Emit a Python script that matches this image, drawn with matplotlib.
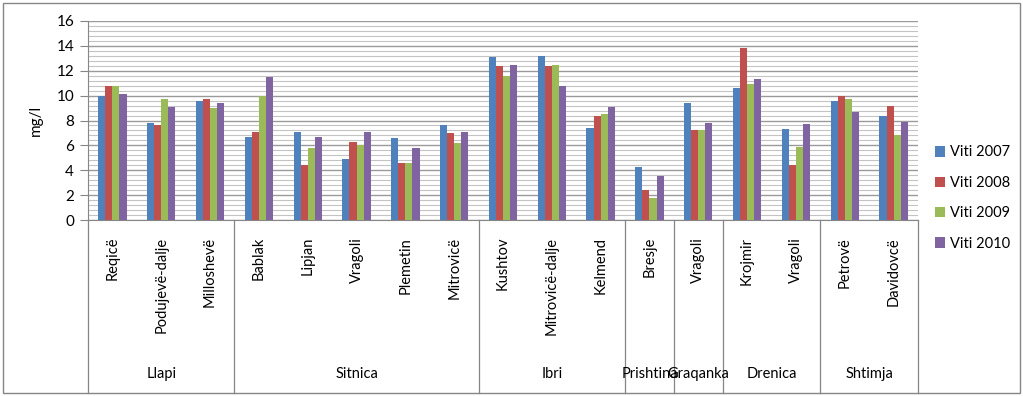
import matplotlib
matplotlib.use("Agg")
import matplotlib.pyplot as plt
import numpy as np
from matplotlib.patches import Rectangle

plt.rcParams["font.family"] = ["Lato", "DejaVu Sans"]

# Stations and the river they belong to
stations = ["Reqicë", "Podujevë-dalje", "Milloshevë",
            "Bablak", "Lipjan", "Vragoli", "Plemetin", "Mitrovicë",
            "Kushtov", "Mitrovicë-dalje", "Kelmend",
            "Bresje",
            "Vragoli",
            "Krojmir", "Vragoli",
            "Petrovë", "Davidovcë"]
rivers = ["Llapi", "Sitnica", "Ibri", "Prishtina", "Graqanka", "Drenica", "Shtimja"]
river_sizes = [3, 5, 3, 1, 1, 2, 2]

years = ["Viti 2007", "Viti 2008", "Viti 2009", "Viti 2010"]
v2007 = [10.0, 7.8, 9.6, 6.7, 7.1, 4.9, 6.6, 7.6, 13.1, 13.2, 7.4, 4.3, 9.4, 10.6, 7.3, 9.6, 8.4]
v2008 = [10.8, 7.6, 9.7, 7.1, 4.4, 6.3, 4.6, 7.0, 12.4, 12.4, 8.4, 2.4, 7.2, 13.8, 4.4, 10.0, 9.2]
v2009 = [10.8, 9.7, 9.0, 10.0, 5.8, 6.0, 4.6, 6.2, 11.6, 12.5, 8.5, 1.8, 7.2, 10.9, 5.9, 9.7, 6.8]
v2010 = [10.1, 9.1, 9.4, 11.5, 6.7, 7.1, 5.8, 7.1, 12.5, 10.8, 9.1, 3.5, 7.8, 11.3, 7.7, 8.7, 7.9]
series = [v2007, v2008, v2009, v2010]
colors = ["#4F81BD", "#C0504D", "#9BBB59", "#8064A2"]

fig = plt.figure(figsize=(10.23, 3.96), dpi=100)
fig.patch.set_facecolor("white")
ax = fig.add_axes([88 / 1023, 1 - 220 / 396, 830 / 1023, 199 / 396])

x = np.arange(len(stations))
bar_w = 0.145
for i, (vals, col, lab) in enumerate(zip(series, colors, years)):
    ax.bar(x + (i - 1.5) * bar_w, vals, width=bar_w, color=col, label=lab, zorder=3)

ax.set_xlim(-0.5, len(stations) - 0.5)
ax.set_ylim(0, 16)
ax.set_yticks(np.arange(0, 17, 2))
ax.set_yticks(np.arange(0, 16.01, 0.4), minor=True)
ax.grid(axis="y", which="major", color="#9a9a9a", linewidth=1.0, zorder=0)
ax.grid(axis="y", which="minor", color="#c4c4c4", linewidth=0.8, zorder=0)
ax.tick_params(axis="y", which="major", length=6, width=0.8, color="#868686",
               labelsize=11, pad=4)
ax.tick_params(axis="y", which="minor", length=0)
ax.set_xticks([])
for s in ["top", "right"]:
    ax.spines[s].set_visible(False)
ax.spines["left"].set_color("#868686")
ax.spines["bottom"].set_color("#868686")
ax.set_ylabel("mg/l", fontsize=11, labelpad=10)

# Category table below the axis
tr = ax.get_xaxis_transform()
table_bottom = -(393 - 220) / 199
bounds = np.concatenate([[0], np.cumsum(river_sizes)]) - 0.5
for b in bounds:
    ax.plot([b, b], [0, table_bottom], transform=tr, color="#868686",
            linewidth=0.9, clip_on=False)
for xi, name in zip(x, stations):
    ax.text(xi, -17 / 199, name, transform=tr, rotation=90, ha="center",
            va="top", fontsize=10.5)
for k, name in enumerate(rivers):
    mid = (bounds[k] + bounds[k + 1]) / 2
    ax.text(mid, -154 / 199, name, transform=tr, ha="center", va="center",
            fontsize=10.5)

# Outer frame
fig.patches.append(Rectangle((3 / 1023, 3 / 396), 1017 / 1023, 390 / 396,
                             transform=fig.transFigure, fill=False,
                             edgecolor="#868686", linewidth=1.0))

fig.legend(loc="center left", bbox_to_anchor=(922 / 1023, 1 - 198 / 396),
           frameon=False, handlelength=0.7, handleheight=0.7,
           handletextpad=0.3, labelspacing=1.12, fontsize=10.5)

fig.savefig("out.png", dpi=100)
